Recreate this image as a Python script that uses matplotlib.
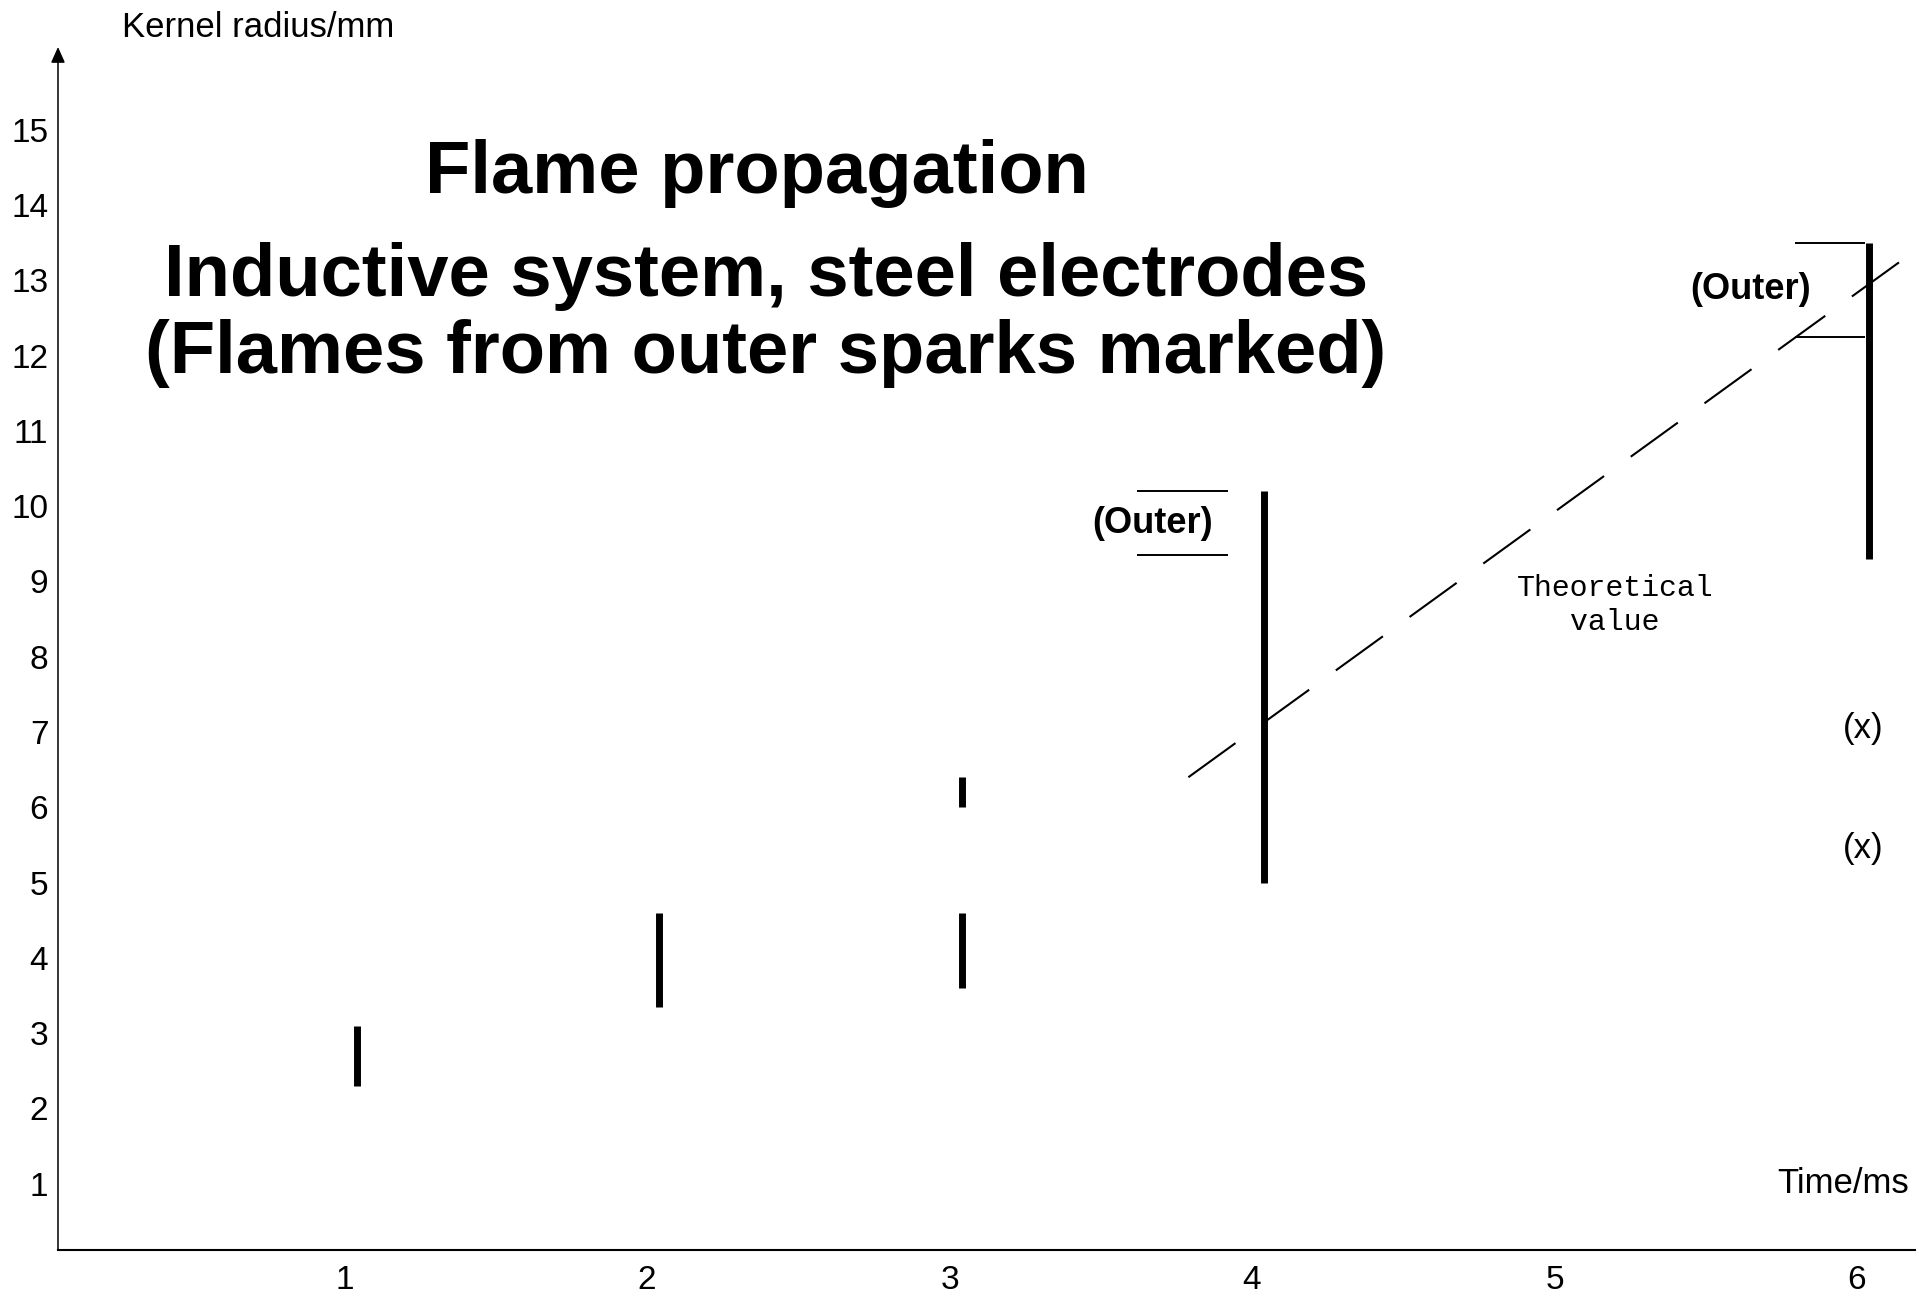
"""Flame kernel radius vs time, inductive ignition system with steel electrodes."""
import matplotlib.pyplot as plt
from matplotlib.transforms import ScaledTranslation

plt.rcParams["font.family"] = ["Liberation Sans", "DejaVu Sans"]

# measured kernel radius ranges (mm) at each time (ms)
times = [1, 2, 3, 3, 4, 6]
r_low = [2.3, 3.35, 3.6, 6.0, 5.0, 9.3]
r_high = [3.1, 4.6, 4.6, 6.4, 10.2, 13.5]

# part of the range coming from outer sparks
outer_t = [4, 6]
outer_low = [9.35, 12.25]
outer_high = [10.2, 13.5]

# single readings flagged with (x)
xmark_t = [6, 6]
xmark_r = [7.05, 5.45]

# theoretical growth
theory_t = [3.75, 6.12]
theory_r = [6.4, 13.3]

W, H = 1919, 1296
fig = plt.figure(figsize=(W / 100, H / 100), dpi=100)
ax = fig.add_axes([58 / W, (H - 1250) / H, (1915 - 58) / W, (1250 - 47) / H])
ax.set_xlim(0.0132, 6.152)
ax.set_ylim(0.12, 16.10)

for s in ("top", "right", "left"):
    ax.spines[s].set_visible(False)
ax.spines["bottom"].set_linewidth(1.5)

# y axis drawn as an arrow
ax.annotate("", xy=(0, 1), xytext=(0, 0), xycoords="axes fraction",
            arrowprops=dict(arrowstyle="-|>,head_length=0.38,head_width=0.17",
                            lw=1.1, color="k", shrinkA=0, shrinkB=0,
                            mutation_scale=25))

ax.set_xticks(range(1, 7))
ax.set_yticks(range(1, 16))
ax.tick_params(axis="both", length=0, labelsize=24)
ax.tick_params(axis="x", pad=11)
ax.tick_params(axis="y", pad=7)
shift = ScaledTranslation(-12 / 100, 0, fig.dpi_scale_trans)
for lbl in ax.get_xticklabels():
    lbl.set_transform(lbl.get_transform() + shift)

# measured ranges
ax.vlines(times, r_low, r_high, colors="k", linewidth=5, capstyle="butt")

# outer-spark brackets: (left offset, right offset, label offset) from the bar
bracket = {4: (0.42, 0.12, 0.37), 6: (0.245, 0.012, 0.39)}
for t, lo, hi in zip(outer_t, outer_low, outer_high):
    left, right, lab = bracket[t]
    ax.hlines([lo, hi], t - left, t - right, colors="k", linewidth=1.4)
    ax.text(t - lab, (lo + hi) / 2, "(Outer)", ha="center", va="center",
            fontsize=26, fontweight="bold")

for t, r in zip(xmark_t, xmark_r):
    ax.text(t - 0.02, r, "(x)", ha="center", va="center", fontsize=25)

ax.plot(theory_t, theory_r, color="k", linewidth=1.5,
        linestyle=(0, (27.9, 15.8)), solid_capstyle="butt")
ax.text(5.16, 8.91, "Theoretical", ha="center", va="center",
        fontsize=21.5, family="Liberation Mono")
ax.text(5.16, 8.46, "value", ha="center", va="center",
        fontsize=21.5, family="Liberation Mono")

fig.text(122 / W, 1 - 37 / H, "Kernel radius/mm", ha="left", va="baseline", fontsize=25)
fig.text(1909 / W, 1 - 1193 / H, "Time/ms", ha="right", va="baseline", fontsize=25)

title_lines = ["Flame propagation",
               "Inductive system, steel electrodes",
               "(Flames from outer sparks marked)"]
title_x = [757, 766, 766]
title_base = [193, 296, 373]
for txt, x, y in zip(title_lines, title_x, title_base):
    fig.text(x / W, 1 - y / H, txt, ha="center", va="baseline",
             fontsize=53.5, fontweight="bold")

fig.savefig("out.png", dpi=100)
